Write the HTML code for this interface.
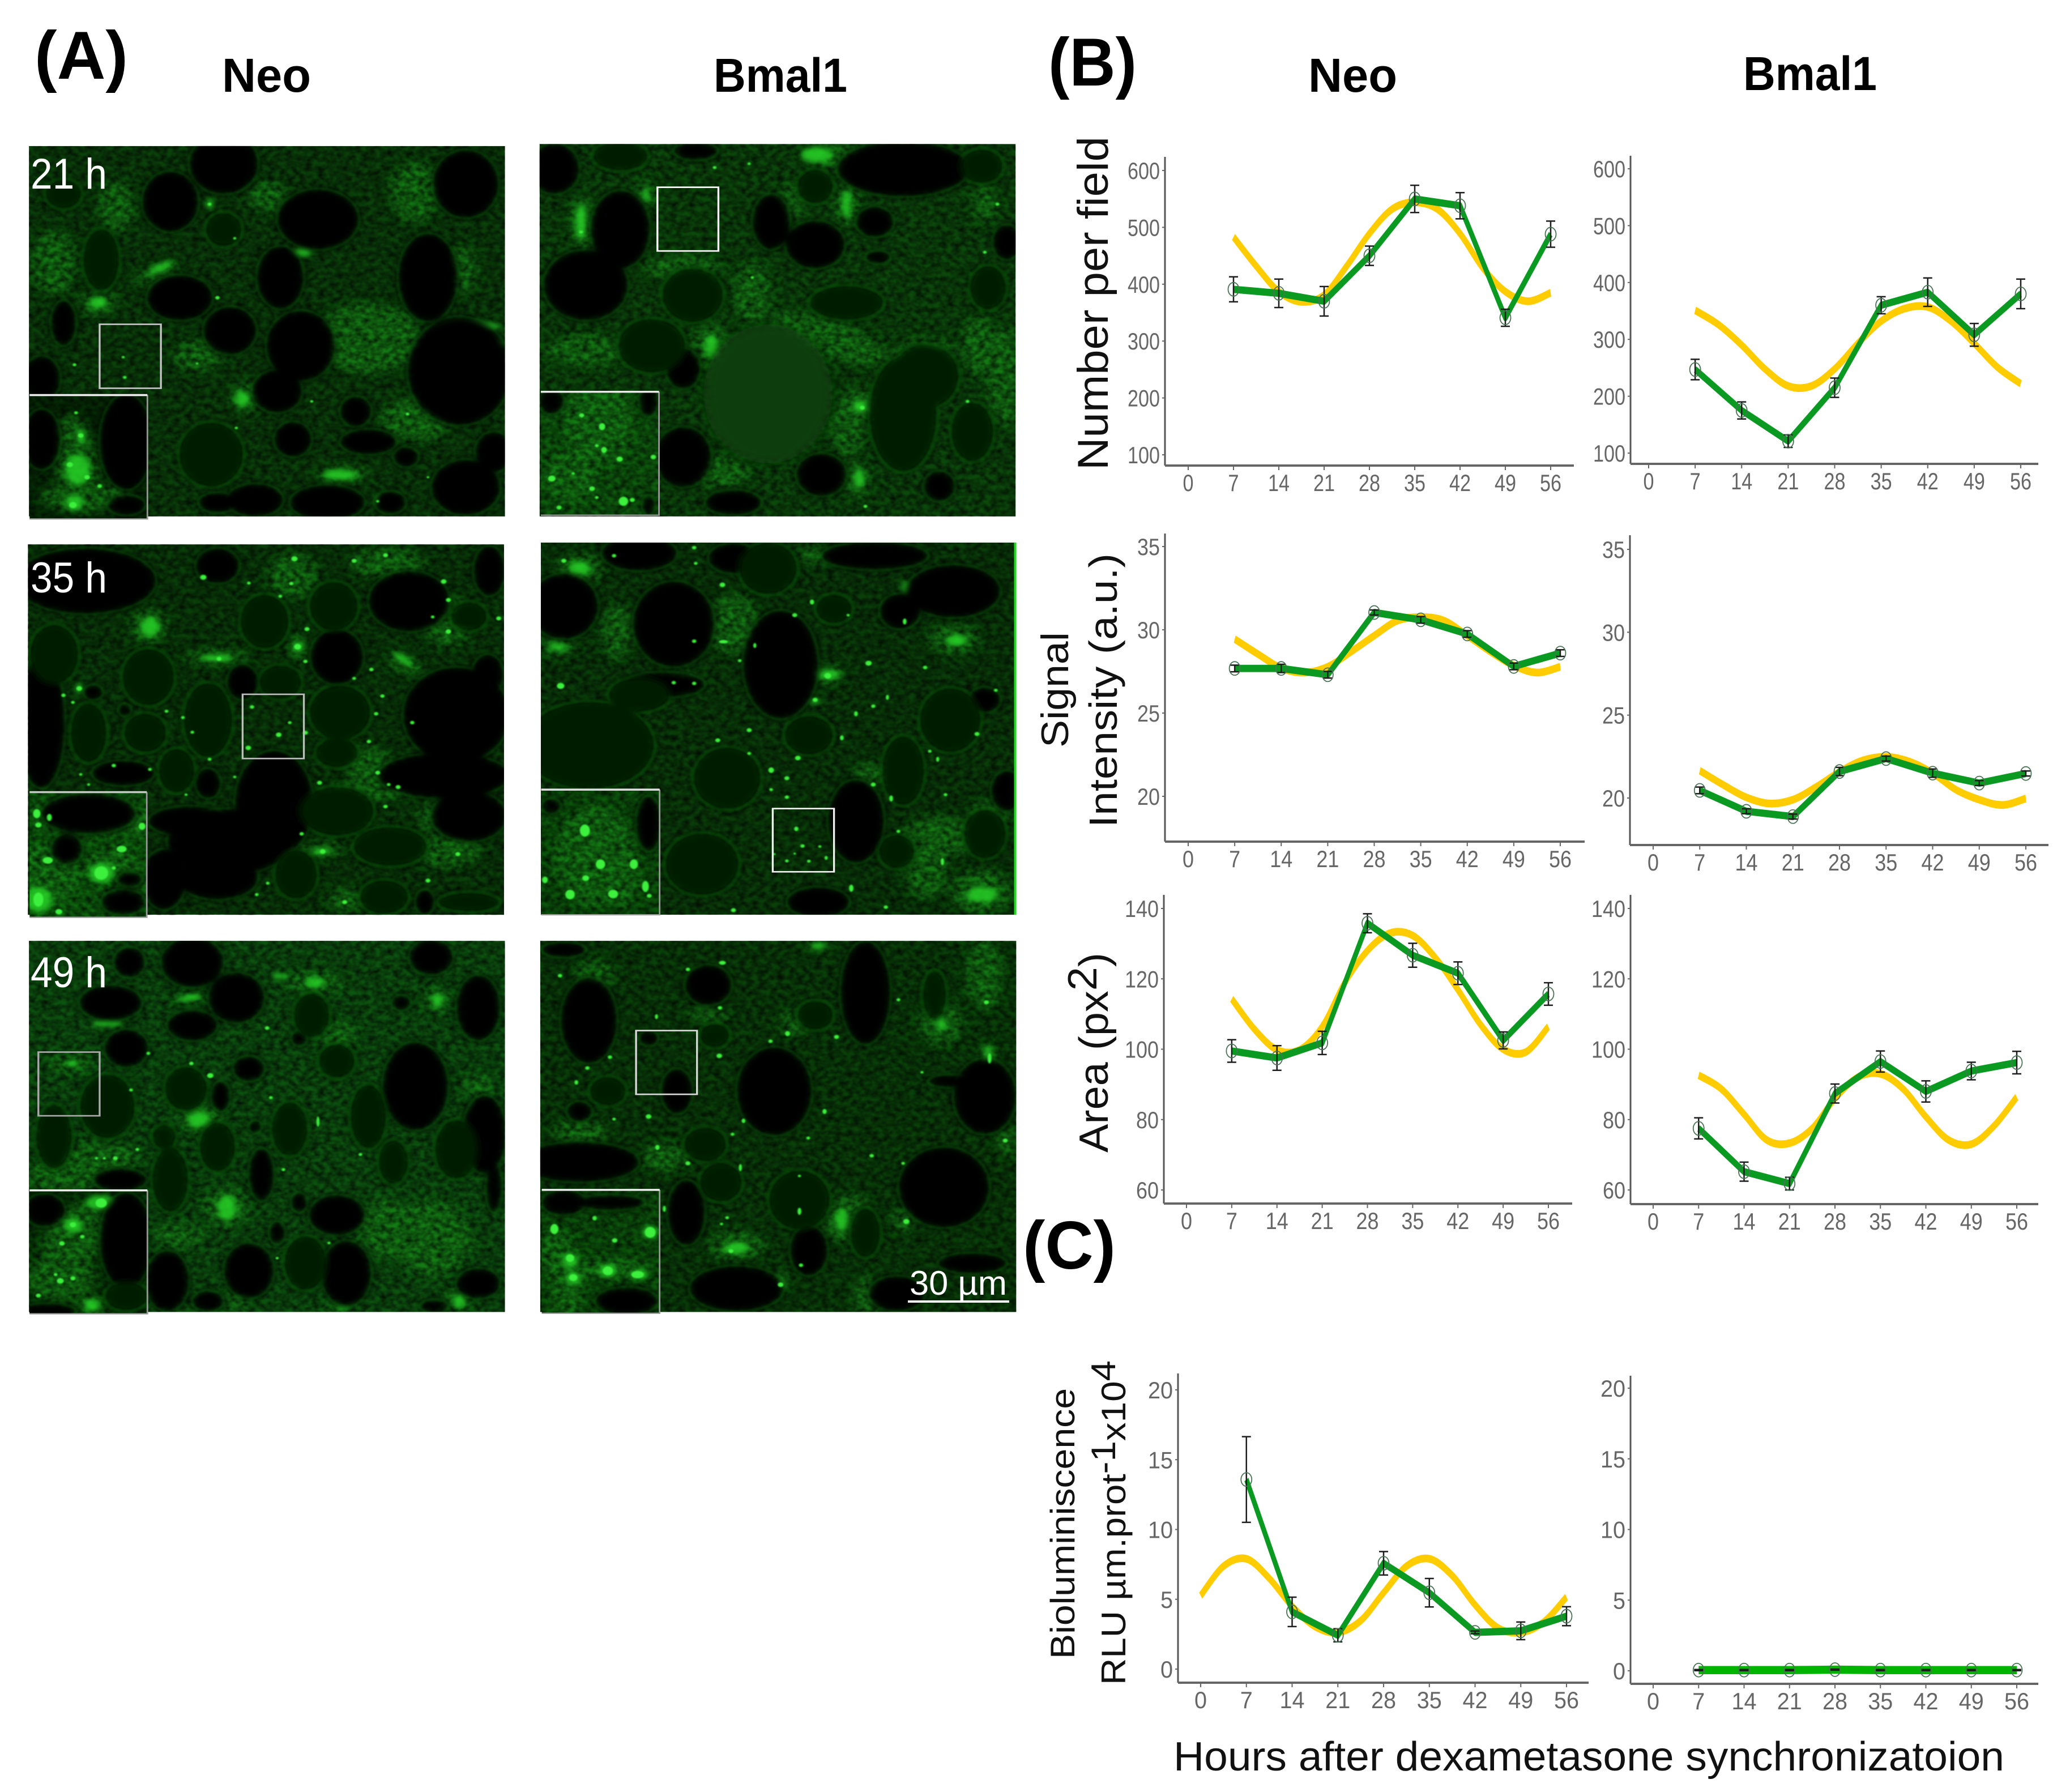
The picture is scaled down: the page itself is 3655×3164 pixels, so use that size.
<!DOCTYPE html>
<html lang="en">
<head>
<meta charset="utf-8">
<title>Neo and Bmal1 micrographs with circadian time courses</title>
<style>
html,body{margin:0;padding:0;background:#fff}
svg{display:block}
text{font-family:"Liberation Sans",sans-serif}
.head{font-weight:700;fill:#000}
.ytitle{fill:#111}
</style>
</head>
<body>
<svg id="fig" xmlns="http://www.w3.org/2000/svg" width="3655" height="3164" viewBox="0 0 3655 3164">
<defs>
<filter id="b16" filterUnits="userSpaceOnUse" x="0" y="0" width="1568" height="1568"><feGaussianBlur stdDeviation="18"/></filter>
<filter id="b13" filterUnits="userSpaceOnUse" x="0" y="0" width="1568" height="1568"><feGaussianBlur stdDeviation="13"/></filter>
<filter id="b9" filterUnits="userSpaceOnUse" x="0" y="0" width="1568" height="1568"><feGaussianBlur stdDeviation="9"/></filter>
<filter id="b4" filterUnits="userSpaceOnUse" x="0" y="0" width="1568" height="1568"><feGaussianBlur stdDeviation="4"/></filter>
<filter id="b2" filterUnits="userSpaceOnUse" x="0" y="0" width="1568" height="1568"><feGaussianBlur stdDeviation="2.2"/></filter>
<filter id="grain" filterUnits="userSpaceOnUse" x="0" y="0" width="1568" height="1568" color-interpolation-filters="sRGB"><feTurbulence type="fractalNoise" baseFrequency=".05" numOctaves="2" seed="7"/><feColorMatrix values="0 0 0 0 0 0 0 0 0 0 0 0 0 0 0 1.3 0 0 0 -.35"/><feGaussianBlur stdDeviation="2"/></filter>
</defs>
<g id="micro"></g>
<text class="head" x="61" y="139" font-size="120" textLength="165" lengthAdjust="spacingAndGlyphs">(A)</text>
<text class="head" x="1851" y="151" font-size="120" textLength="156" lengthAdjust="spacingAndGlyphs">(B)</text>
<text class="head" x="1806" y="2240" font-size="120" textLength="164" lengthAdjust="spacingAndGlyphs">(C)</text>
<text class="head" x="392" y="162" font-size="84" textLength="157" lengthAdjust="spacingAndGlyphs">Neo</text>
<text class="head" x="1260" y="162" font-size="84" textLength="236" lengthAdjust="spacingAndGlyphs">Bmal1</text>
<text class="head" x="2310" y="162" font-size="84" textLength="157" lengthAdjust="spacingAndGlyphs">Neo</text>
<text class="head" x="3078" y="159" font-size="84" textLength="236" lengthAdjust="spacingAndGlyphs">Bmal1</text>
<text class="ytitle" transform="translate(1956,830) rotate(-90)" font-size="76" textLength="589" lengthAdjust="spacingAndGlyphs">Number per field</text>
<text class="ytitle" transform="translate(1886,1320) rotate(-90)" font-size="68" textLength="204" lengthAdjust="spacingAndGlyphs">Signal</text>
<text class="ytitle" transform="translate(1972,1461) rotate(-90)" font-size="70" textLength="484" lengthAdjust="spacingAndGlyphs">Intensity (a.u.)</text>
<text class="ytitle" transform="translate(1956,2035) rotate(-90)" font-size="72" textLength="353" lengthAdjust="spacingAndGlyphs">Area (px<tspan dy="-20">2</tspan><tspan dy="20">)</tspan></text>
<text class="ytitle" transform="translate(1897,2929) rotate(-90)" font-size="60" textLength="478" lengthAdjust="spacingAndGlyphs">Bioluminiscence</text>
<text class="ytitle" transform="translate(1987,2975) rotate(-90)" font-size="60" textLength="573" lengthAdjust="spacingAndGlyphs">RLU µm.prot<tspan dy="-18">-1</tspan><tspan dy="18">x10</tspan><tspan dy="-18">4</tspan></text>
<text x="2072" y="3126" font-size="72" fill="#111" textLength="1467" lengthAdjust="spacingAndGlyphs">Hours after dexametasone synchronizatoion</text>
<g id="charts"></g>
</svg>
<script>
/* ---------- chart data ---------- */
const timeHours = [7, 14, 21, 28, 35, 42, 49, 56];
const xTickLabels = [0, 7, 14, 21, 28, 35, 42, 49, 56];
const fitHours = [7, 10.5, 14, 17.5, 21, 24.5, 28, 31.5, 35, 38.5, 42, 45.5, 49, 52.5, 56];
const bioFitHours = [0, 3.5, 7, 10.5, 14, 17.5, 21, 24.5, 28, 31.5, 35, 38.5, 42, 45.5, 49, 52.5, 56];
const numberTicks = [100, 200, 300, 400, 500, 600];
const signalTicks = [20, 25, 30, 35];
const areaTicks = [60, 80, 100, 120, 140];
const bioTicks = [0, 5, 10, 15, 20];

const neoNumberValues = [391, 384, 370, 450, 550, 538, 341, 488];
const neoNumberErrors = [22, 25, 26, 17, 24, 23, 15, 23];
const neoNumberFit = [483, 432, 387, 369, 381, 432, 489, 532, 544, 532, 489, 429, 387, 370, 385];
const bmalNumberValues = [247, 175, 121, 215, 360, 383, 308, 380];
const bmalNumberErrors = [18, 15, 11, 17, 15, 25, 20, 26];
const bmalNumberFit = [351, 326, 290, 248, 218, 218, 248, 293, 332, 354, 357, 332, 293, 251, 222];

const neoSignalValues = [27.68, 27.68, 27.3, 31.04, 30.6, 29.75, 27.8, 28.6];
const neoSignalErrors = [0.2, 0.25, 0.2, 0.15, 0.2, 0.2, 0.2, 0.2];
const neoSignalFit = [29.44, 28.54, 27.7, 27.43, 27.78, 28.68, 29.65, 30.55, 30.76, 30.55, 29.65, 28.68, 27.85, 27.43, 27.78];
const bmalSignalValues = [20.46, 19.2, 18.88, 21.6, 22.38, 21.5, 20.9, 21.48];
const bmalSignalErrors = [0.2, 0.15, 0.15, 0.25, 0.15, 0.25, 0.15, 0.15];
const bmalSignalFit = [21.65, 20.8, 20.04, 19.67, 19.9, 20.67, 21.58, 22.27, 22.48, 22.2, 21.5, 20.5, 19.9, 19.58, 19.97];

const neoAreaValues = [99.5, 97.5, 101.8, 135.8, 126.7, 121.6, 102.5, 115.7];
const neoAreaErrors = [3.2, 3.5, 3.3, 2.7, 3.4, 3.2, 2.4, 3.2];
const neoAreaFit = [114.3, 105.7, 99.8, 99.8, 106.4, 118.9, 128, 133, 132.3, 126, 116.9, 107, 100, 99.2, 106.4];
const bmalAreaValues = [77.5, 65.2, 61.8, 87.4, 96.5, 88, 93.8, 96.2];
const bmalAreaErrors = [3, 2.7, 1.8, 2.7, 3, 3, 2.5, 3.2];
const bmalAreaFit = [92.6, 88.7, 81.5, 74.2, 73.3, 77.5, 86, 92, 93, 88.7, 80.8, 74.2, 73, 78.2, 86.4];

const neoBioValues = [13.58, 4.1, 2.42, 7.58, 5.47, 2.63, 2.74, 3.79];
const neoBioErrors = [3.07, 1.05, 0.47, 0.84, 1.02, 0.1, 0.63, 0.68];
const neoBioFit = [5.26, 7.37, 7.9, 6.5, 4.5, 3.05, 2.63, 3.47, 5.47, 7.37, 7.9, 6.7, 4.6, 2.95, 2.63, 3.37, 5.16];
const bmalBioValues = [0.05, 0.05, 0.05, 0.08, 0.05, 0.05, 0.05, 0.05];
const bmalBioErrors = [0.04, 0.04, 0.04, 0.04, 0.04, 0.04, 0.04, 0.04];

/* ---------- chart layout ---------- */
const charts = [
 {name:'neo-number', v:neoNumberValues, e:neoNumberErrors, f:neoNumberFit, fh:fitHours, ticks:numberTicks, cw:19,
  L:{ax:2057,top:277,base:822,right:2779,x0:2098,x56:2738,hi:600,hiY:301,lo:100,loY:803}},
 {name:'bmal1-number', v:bmalNumberValues, e:bmalNumberErrors, f:bmalNumberFit, fh:fitHours, ticks:numberTicks, cw:19,
  L:{ax:2879,top:275,base:819,right:3599,x0:2911,x56:3568,hi:600,hiY:298,lo:100,loY:800}},
 {name:'neo-signal', v:neoSignalValues, e:neoSignalErrors, f:neoSignalFit, fh:fitHours, ticks:signalTicks, cw:20,
  L:{ax:2057,top:942,base:1486,right:2798,x0:2098,x56:2755,hi:35,hiY:965,lo:20,loY:1406}},
 {name:'bmal1-signal', v:bmalSignalValues, e:bmalSignalErrors, f:bmalSignalFit, fh:fitHours, ticks:signalTicks, cw:20,
  L:{ax:2878,top:945,base:1492,right:3617,x0:2919,x56:3577,hi:35,hiY:970,lo:20,loY:1409}},
 {name:'neo-area', v:neoAreaValues, e:neoAreaErrors, f:neoAreaFit, fh:fitHours, ticks:areaTicks, cw:20,
  L:{ax:2055,top:1580,base:2125,right:2776,x0:2095,x56:2734,hi:140,hiY:1604,lo:60,loY:2101}},
 {name:'bmal1-area', v:bmalAreaValues, e:bmalAreaErrors, f:bmalAreaFit, fh:fitHours, ticks:areaTicks, cw:20,
  L:{ax:2879,top:1580,base:2126,right:3599,x0:2919,x56:3561,hi:140,hiY:1604,lo:60,loY:2101}},
 {name:'neo-bioluminescence', v:neoBioValues, e:neoBioErrors, f:neoBioFit, fh:bioFitHours, ticks:bioTicks, cw:22,
  L:{ax:2080,top:2425,base:2971,right:2805,x0:2120,x56:2766,hi:20,hiY:2454,lo:0,loY:2947}},
 {name:'bmal1-bioluminescence', v:bmalBioValues, e:bmalBioErrors, f:null, fh:null, ticks:bioTicks, cw:22, light:true,
  L:{ax:2879,top:2429,base:2973,right:3599,x0:2919,x56:3561,hi:20,hiY:2451,lo:0,loY:2950}}
];
const STRETCH = 1.6; /* the source raster was stretched vertically, so strokes are thicker along y */

const NS = 'http://www.w3.org/2000/svg';
function mk(tag, parent, attrs){
  const el = document.createElementNS(NS, tag);
  for (const k in attrs) el.setAttribute(k, attrs[k]);
  parent.appendChild(el);
  return el;
}
function smooth(pts){
  let d = 'M' + pts[0][0] + ' ' + pts[0][1];
  for (let i = 0; i < pts.length - 1; i++){
    const a = pts[Math.max(i-1,0)], b = pts[i], c = pts[i+1], e = pts[Math.min(i+2,pts.length-1)];
    d += ' C' + (b[0]+(c[0]-a[0])/6) + ' ' + (b[1]+(c[1]-a[1])/6) + ' ' + (c[0]-(e[0]-b[0])/6) + ' ' + (c[1]-(e[1]-b[1])/6) + ' ' + c[0] + ' ' + c[1];
  }
  return d;
}
function drawChart(c){
  const L = c.L;
  const xs = h => L.x0 + h * (L.x56 - L.x0) / 56;
  const ys = v => L.loY + (v - L.lo) * (L.hiY - L.loY) / (L.hi - L.lo);
  const g = mk('g', document.getElementById('charts'), {});
  
  

  const yAxis = mk('line', g, {x1:L.ax, y1:L.top, x2:L.ax, y2:L.base, stroke:'#555', 'stroke-width':3});
  
  
  const xAxis = mk('line', g, {x1:L.ax, y1:L.base, x2:L.right, y2:L.base, stroke:'#666', 'stroke-width':4});
  
  

  xTickLabels.forEach(t => {
    const tick = mk('line', g, {x1:xs(t), y1:L.base, x2:xs(t), y2:L.base+8, stroke:'#666', 'stroke-width':2});
    
    
    const s = String(t);
    const lab = mk('text', g, {x:xs(t), y:L.base+45, 'text-anchor':'middle', 'font-size':42, fill:'#666', textLength:s.length*c.cw, lengthAdjust:'spacingAndGlyphs'});
    lab.textContent = s;
    
    
  });
  c.ticks.forEach(t => {
    const tick = mk('line', g, {x1:L.ax-5, y1:ys(t), x2:L.ax, y2:ys(t), stroke:'#666', 'stroke-width':2});
    
    
    const s = String(t);
    const lab = mk('text', g, {x:L.ax-9, y:ys(t)+15, 'text-anchor':'end', 'font-size':42, fill:'#666', textLength:s.length*c.cw, lengthAdjust:'spacingAndGlyphs'});
    lab.textContent = s;
    
    
  });

  const stretched = mk('g', g, {transform:'scale(1 ' + STRETCH + ')'});
  if (c.f){
    const fit = mk('path', stretched, {d:smooth(c.f.map((v,i)=>[xs(c.fh[i]),ys(v)/STRETCH])), fill:'none', stroke:'#ffcc00', 'stroke-width':8.5});
    
    
  }
  const line = mk('polyline', stretched, {points:c.v.map((v,i)=>xs(timeHours[i])+','+(ys(v)/STRETCH)).join(' '), fill:'none', stroke:c.light?'#00b400':'#0a9a22', 'stroke-width':c.light?9:8, 'stroke-linejoin':'round'});
  
  

  c.v.forEach((v,i) => {
    const x = xs(timeHours[i]), hi = ys(v+c.e[i]), lo = ys(v-c.e[i]);
    const bar = mk('path', g, {d:'M'+x+' '+hi+'V'+lo+'M'+(x-8)+' '+hi+'H'+(x+8)+'M'+(x-8)+' '+lo+'H'+(x+8), fill:'none', stroke:'#1c1c1c', 'stroke-width':2.5});
    
    
    const dot = mk('ellipse', g, {cx:x, cy:ys(v), rx:9.5, ry:12, fill:'none', stroke:'#4a7355', 'stroke-width':1.8});
    
    
  });
}
charts.forEach(drawChart);

/* ---------- micrographs: painted with blurred blobs in a 1568-unit local frame ---------- */
const micrographs = [
{name:'neo-21h', ox:40, oy:240, box:[20,40,1535,1505], haze:'#0b420b',
 glow:'1100 800 170 140;780 240 60 60;1250 220 80 120;1250 1120 110 90;560 870 80 60;1400 530 45 95;240 660 60 50;420 550 80 30 -30;710 1030 50 60;1020 1340 80 35;100 500 70 130;300 280 60 100',
 bright:'1420 755 100 22;1490 825 40 22;1010 1340 55 20;240 660 28 22;440 520 45 14 -30;890 460 30 18;700 1040 25 30;1130 1440 8 25;595 270 10 22',
 dark:'640 110 110 120;940 330 130 120;470 260 90 120;130 740 40 90;1290 560 95 175;1410 190 105 135;1390 930 165 215;660 770 85 95;885 830 110 140;810 1010 80 85;820 560 75 125;500 640 105 90;60 960 60 90;1060 1090 50 60;860 1200 60 70;1100 1210 90 50;1220 1270 40 40;740 1440 90 65;970 1450 120 70;1410 1390 110 110;1170 1450 50 45;1500 1250 60 80;620 1450 60 40',
 dim:'250 490 60 125;600 1260 105 130;640 370 60 70;130 230 60 60',
 spots:'675 405 5;620 640 7;165 905 6;325 955 6;320 875 5;1225 1100 6;920 1050 5;680 1155 5;1130 1445 5;1290 1350 4;595 270 6;555 900 4',
 sel:[245,745,440,998], selColor:'#c4c4c4',
 inset:{box:[22,1025,397,1515], haze:'#062c06',
  glow:'170 1300 70 200 -5;200 1430 150 60',
  bright:'175 1320 40 60;165 1450 28 32;185 1190 12 30',
  dark:'330 1210 85 190;60 1200 60 120;330 1460 60 40',
  dim:'',
  spots:'185 1185 9;150 1300 10;205 1350 9;245 1385 7;160 1460 12;170 1095 6',
  line:'#eee'}},
{name:'bmal1-21h', ox:940, oy:240, box:[23,32,1538,1505], haze:'#0c4a0c',
 glow:'960 80 90 60;570 830 60 90;1040 1060 60 60;160 340 40 110;830 260 35 80;1000 270 40 90;1030 1360 40 70;1250 850 90 50;950 800 200 70 25;600 1330 90 60;360 230 30 60;1440 270 40 70;1000 1160 50 110;480 520 120 50;700 620 60 120;1500 950 50 200;1420 830 50 120;170 850 130 60',
 bright:'905 75 50 30;1045 1070 25 25;155 340 18 70;1040 1355 16 40;1000 270 14 55;1270 845 30 14;570 830 22 45;360 235 10 30',
 dark:'280 370 95 155;170 590 135 140;900 430 95 95;1180 130 210 110;760 340 60 110;480 920 55 80;1090 340 60 60;1510 420 45 70;70 130 80 100;1295 1385 50 60;920 1340 80 85;480 1270 90 120;640 1450 90 50;520 60 70 35;1100 480 40 25',
 dim:'510 630 100 110;380 830 110 110;1180 1100 110 230;1400 1170 70 120;1000 660 120 70;1450 600 60 90;1250 950 110 130;900 200 60 70;1430 120 70 70;280 80 90 60',
 big:'750 1020 205 275',
 spots:'155 380 6;1480 270 6;1050 1075 8;1060 1465 6;1440 460 6;1385 1050 6;700 560 5;580 125 6;690 110 5',
 sel:[398,203,592,455], selColor:'#fff',
 inset:{box:[27,1012,403,1500], haze:'#0e5e0e',
  glow:'210 1130 110 170;120 1350 80 100',
  bright:'',
  dark:'370 1050 30 60;370 1460 20 40;60 1050 40 50',
  dim:'',
  spots:'222 1150 10 14;157 1105 8;228 1242 9 12;205 1225 6;278 1278 10;385 1270 9;62 1355 12;190 1395 9;205 1430 6;290 1445 15 18;318 1440 8;85 1470 8;130 1335 5',
  line:'#e8e8e8'}},
{name:'neo-35h', ox:40, oy:950, box:[17,25,1532,1490], haze:'#0a3f0a',
 glow:'400 350 60 70;620 470 110 30;880 430 35 50;1220 500 70 35 40;1320 630 35 50;1160 100 120 60;860 150 80 90;1350 330 80 100;1100 900 70 80;1100 1000 150 40;1350 1240 110 60;1300 1100 40 60;950 1230 70 30;1030 1430 60 50',
 bright:'405 350 30 40;620 475 50 14;875 430 16 22;1210 480 40 12 40;1320 635 18 30;950 1240 30 14;180 595 12 20',
 dark:'200 170 225 130;60 730 75 260;1230 250 130 120;1000 470 85 110;800 1050 125 210;660 1200 200 130;1380 700 170 190;1340 940 210 90;1420 1100 120 100;620 1340 130 90;320 930 100 50;1485 130 50 100;530 1120 130 60;700 570 50 70;225 610 30 30;325 680 20 25;590 970 40 60;620 110 70 70;1480 540 50 80;450 1350 70 120;1280 1440 30 50',
 dim:'100 460 80 120;210 770 60 120;400 550 85 115;590 720 80 150;390 770 70 80;490 920 60 90;770 330 80 110;990 270 80 100;1010 690 100 110;1000 1080 120 100;1170 1220 120 80;820 570 70 70;1420 310 60 60;1000 850 70 60;1420 1440 100 40;870 1330 70 100;1150 1420 80 70',
 spots:'865 82 10;1155 68 8;1055 90 8;575 155 10;855 180 7;720 178 6;820 230 6;1340 172 9;1355 245 8;1305 312 6;1515 318 8;1355 370 9;905 360 8;875 430 11;900 488 7;625 478 8;180 595 9;130 622 7;160 650 6;510 710 6;540 768 6;458 685 6;405 915 6;1145 625 7;1125 695 7;1110 520 7;1055 555 6;1102 805 7;1130 928 8;945 968 8;1195 985 8;1165 975 6;1155 1062 7;888 1170 7;955 1240 9;1290 1355 8;1385 1250 8;1240 730 7;1025 1440 8;780 1365 6;745 1410 6;290 900 7;185 935 5;210 975 5;595 875 6;675 945 5;520 1015 5;815 778 9;718 830 9;730 668 7;850 730 6;900 770 8',
 sel:[700,618,895,872], selColor:'#bdbdbd',
 inset:{box:[22,1005,395,1500], haze:'#0e660e',
  glow:'80 1330 100 120;290 1290 80 60;370 1130 40 60',
  bright:'250 1325 40 40;50 1430 45 50',
  dark:'210 1090 150 80;140 1230 50 60;320 1440 70 50;340 1350 40 30',
  dim:'',
  spots:'250 1325 22 26;50 1430 16 28;80 1275 16 13;45 1090 12 18;85 1105 8 14;50 1135 10;315 1230 16 13;380 1140 11 14;115 1478 11;290 1305 7',
  line:'#c8c8c8'}},
{name:'bmal1-35h', ox:940, oy:950, box:[27,18,1540,1490], haze:'#0a3f0a',
 glow:'150 120 75 60;270 370 50 110;470 570 70 40;940 540 50 40;1340 400 80 60;80 430 60 40;1430 1400 100 90;1250 1300 70 130;1300 1180 120 80;640 340 80 120;900 70 50 40;1040 1080 30 60;1100 930 80 40;1450 1100 60 60',
 bright:'150 120 35 28;940 540 40 18;1350 405 35 22;465 570 26 14;1190 195 14 26;80 430 30 14;1430 1410 50 30;900 645 16 12',
 dark:'100 270 110 130;790 500 120 215;450 340 130 170;1340 210 150 105;1090 70 170 55;420 580 130 50;1030 1120 90 165;910 1440 100 60;1510 1000 50 80;1170 290 65 70;640 80 80 60;340 60 120 70;1440 640 50 50',
 dim:'1330 720 100 130;750 120 95 105;620 950 110 125;540 1290 120 125;1180 920 70 140;180 820 210 175;340 620 100 70;960 280 60 60;880 780 80 80;1440 1170 70 100;1160 1240 60 70',
 spots:'100 90 8;260 70 7;515 38 7;520 100 6;605 185 9;515 408 7;608 410 14 7;660 485 6;708 425 5 10;835 305 8;890 253 7 10;1005 305 5;1185 330 6 12;1070 495 10;940 545 11;515 575 7;450 572 7;90 585 12;1250 512 7;1030 695 6 10;1085 665 7;1130 630 5 10;1475 602 6;1415 775 8;1265 843 6;1290 875 5 10;690 760 8;590 800 8;690 852 6;845 870 9;760 918 9 11;810 950 8;760 995 6;810 1025 7;985 790 6 10;1085 975 8;1142 1030 6 12;1315 1015 6;1165 1160 6;1015 1385 7 14;1125 1460 7;640 1472 8;1305 1280 5 14;900 640 8;840 1150 7 9;860 1218 7;880 1278 6;810 1277 6;915 1220 5;935 1265 5 8;835 1248 4;770 1250 4',
 sel:[765,1070,960,1320], selColor:'#f2f2f2', edge:'#18e018',
 inset:{box:[28,995,405,1490], haze:'#0c560c',
  glow:'200 1260 130 200;300 1340 40 120',
  bright:'',
  dark:'370 1130 40 110;60 1060 30 30',
  dim:'',
  spots:'167 1157 16 24;217 1290 15 19;120 1410 15 19;257 1408 16 17;323 1290 13 19;360 1378 11 22;170 1345 11;40 1352 9 13;372 1415 8',
  line:'#ddd'}},
{name:'neo-49h', ox:40, oy:1650, box:[20,25,1535,1493], haze:'#0d5410',
 glow:'930 190 90 45;530 250 60 15;560 720 70 60;650 1080 70 80;500 1190 80 50;1150 1160 80 120;1300 1200 130 150;1320 260 40 50;1450 600 50 50;150 510 70 40;240 880 130 60;1010 1470 50 25;1380 1450 40 50;680 1450 40 40;1000 400 60 60;130 950 120 60',
 bright:'820 165 30 10;530 250 40 12 -15;560 730 35 35;1240 540 34 10 30;650 1080 30 50;930 190 30 22;1320 260 18 28;1020 1475 20 10;1390 1450 20 25;160 510 18 12;270 350 50 14',
 dark:'540 110 100 100;340 110 50 60;280 270 100 70;540 360 80 60;330 450 70 75;680 250 90 100;630 640 30 60;1300 90 70 70;1205 270 30 30;1450 290 70 130;1250 600 105 175;1470 790 70 155;1000 1110 90 80;1030 1340 80 130;810 1180 25 45;880 1060 25 40;760 950 40 105;310 970 85 45;880 410 25 30;740 760 20 25;720 530 50 50;1450 1380 70 60;460 1370 70 120;720 1330 80 110;1310 1470 45 25;590 1450 50 40;1500 1000 25 100',
 dim:'520 610 70 90;470 970 60 130;620 840 60 100;450 800 40 50;920 320 60 90;850 770 60 110;100 800 60 130;270 680 90 130;900 1300 70 110;1000 500 60 70;1100 720 60 130;1380 850 70 120;1180 900 50 90',
 spots:'597 558 10;537 510 7;778 370 7;400 470 6;345 615 6;365 850 6;295 885 8;260 885 5;235 885 5;940 740 5 20;790 645 6;1075 870 6;975 1220 5;810 1280 5;830 930 6',
 sel:[50,465,245,717], selColor:'#aaa',
 inset:{box:[22,1012,397,1500], haze:'#083e08',
  glow:'165 1200 95 140 20;120 1360 110 90;220 1470 50 40',
  bright:'250 1060 50 28;160 1150 30 30;220 1465 25 25',
  dark:'330 1210 85 190;70 1090 65 65;80 1490 90 30',
  dim:'330 1430 70 60',
  spots:'250 1062 18;160 1148 10;125 1222 9;190 1195 7;120 1370 11;160 1360 8;50 1428 8;105 1345 6',
  line:'#eee'}},
{name:'bmal1-49h', ox:940, oy:1650, box:[25,25,1540,1493], haze:'#0a420a',
 glow:'910 45 40 20;980 1130 50 90;650 1230 90 60;780 1370 30 45;1440 160 60 140;1450 500 28 70;1180 1130 35 50;1060 1430 40 80;200 160 60 60;830 350 40 50;1300 350 70 90;560 320 60 30;1020 1060 50 30;1510 820 30 60;150 780 90 50;420 880 70 60',
 bright:'910 45 24 12;790 1380 14 22;985 1130 20 45;650 1240 40 22;1450 490 12 55;1300 350 16 30',
 dark:'560 200 75 80;1060 230 80 205;180 340 90 170;770 620 120 175;150 900 190 80;1310 1000 145 160;650 1400 150 90;1160 1420 90 70;490 1100 60 130;1440 640 100 150;880 1250 60 100;150 700 40 40;1330 580 70 25;370 410 30 30;460 620 50 90;100 60 70 30;1400 1300 110 40',
 dim:'580 400 50 50;900 320 60 60;550 830 70 70;850 1050 100 120;600 980 70 80;240 620 60 60;1060 1180 50 100;1280 240 40 100',
 spots:'88 163 7;495 138 7;605 112 11 8;597 290 7;395 325 5 10;247 485 7;175 528 7;140 585 6 9;260 730 6;370 720 9;398 842 7 10;495 905 8;662 922 5 14;930 700 7 10;878 805 6;812 392 8 10;758 422 7;968 405 8;595 480 9;672 737 6 9;637 790 6;1080 875 7;1180 905 6;1240 545 5;1445 268 8;1165 258 6;1455 490 6 20;632 1252 8;602 1145 5;620 1120 6;855 1308 7;790 1385 9;1190 1135 10;1505 815 8;850 955 5;850 1095 6 14;420 1085 5 12',
 sel:[330,380,524,632], selColor:'#d8d8d8',
 inset:{box:[30,1010,405,1498], haze:'#0c560c',
  glow:'110 1400 50 120;80 1260 60 90;250 1320 130 40',
  bright:'120 1290 24 30;130 1360 24 26;240 1330 30 24;340 1345 30 18;375 1178 24 26',
  dark:'100 1060 70 50;300 1450 100 55;250 1060 110 30',
  dim:'',
  spots:'70 1165 13 20;375 1178 17 21;120 1280 13 15;240 1330 16 17;335 1345 20 14;130 1357 13;262 1210 9;198 1122 7 9',
  line:'#eee'}}
];
const GLOW = '#128212', BRIGHT = '#28d028', SPOT = '#3cf03c', DIM = '#021f02', RIM = '#149a14';

function blobs(parent, fill, list, filter, extra){
  if (!list) return;
  const g = mk('g', parent, Object.assign({fill:fill, filter:filter}, extra || {}));
  list.split(';').forEach(s => {
    const p = s.trim().split(' ').map(Number);
    const rx = p[2], ry = p.length > 3 ? p[3] : p[2], rot = p[4] || 0;
    const e = mk('ellipse', g, {cx:p[0], cy:p[1], rx:rx, ry:ry, transform:'rotate('+rot+' '+p[0]+' '+p[1]+')'});
    
    
  });
}
let clipId = 0;
function paint(parent, m){
  const [x1,y1,x2,y2] = m.box;
  const id = 'clip' + (clipId++);
  const cp = mk('clipPath', parent, {id:id});
  mk('rect', cp, {x:x1, y:y1, width:x2-x1, height:y2-y1});
  const g = mk('g', parent, {'clip-path':'url(#'+id+')'});
  mk('rect', g, {x:x1, y:y1, width:x2-x1, height:y2-y1, fill:m.haze});
  blobs(g, GLOW, m.glow, 'url(#b16)', {opacity:.85});
  mk('rect', g, {x:x1, y:y1, width:x2-x1, height:y2-y1, fill:'#000', filter:'url(#grain)'});
  blobs(g, BRIGHT, m.bright, 'url(#b9)', {opacity:.85});
  const rimOpts = {stroke:RIM, 'stroke-width':7, opacity:.6};
  blobs(g, 'none', m.dark, 'url(#b4)', rimOpts);
  blobs(g, 'none', m.dim, 'url(#b4)', rimOpts);
  blobs(g, '#000', m.dark, 'url(#b13)');
  blobs(g, DIM, m.dim, 'url(#b13)');
  blobs(g, '#073d07', m.big, 'url(#b16)');
  blobs(g, SPOT, m.spots, 'url(#b2)');
  return g;
}
const root = document.getElementById('micro');
micrographs.forEach(m => {
  const frame = mk('g', root, {transform:'translate('+m.ox+' '+m.oy+') scale(.5548 .4464)'});
  
  
  paint(frame, m);
  if (m.edge){
    const edge = mk('rect', frame, {x:m.box[2]-7, y:m.box[1], width:7, height:m.box[3]-m.box[1], fill:m.edge});
    
    
  }
  const s = m.sel;
  const sel = mk('rect', frame, {x:s[0], y:s[1], width:s[2]-s[0], height:s[3]-s[1], fill:'none', stroke:m.selColor, 'stroke-width':6});
  
  
  const ins = mk('g', frame, {});
  
  
  paint(ins, m.inset);
  const b = m.inset.box;
  mk('path', ins, {d:'M'+b[2]+' '+b[1]+'V'+b[3]+'H'+b[0], fill:'none', stroke:'#999', 'stroke-width':5});
  mk('line', ins, {x1:b[0], y1:b[1], x2:b[2], y2:b[1], stroke:m.inset.line, 'stroke-width':8});
});
/* time and scale labels sit on top of the images */
[['21 h',333],['35 h',1046],['49 h',1743]].forEach(t => {
  const lab = mk('text', root, {x:54, y:t[1], 'font-size':76, fill:'#fff', textLength:135, lengthAdjust:'spacingAndGlyphs'});
  lab.textContent = t[0];
  
  
});
const scaleText = mk('text', root, {x:1606, y:2286, 'font-size':60, fill:'#fff', textLength:172, lengthAdjust:'spacingAndGlyphs'});
scaleText.textContent = '30 µm';


const scaleBar = mk('line', root, {x1:1603, y1:2298, x2:1782, y2:2298, stroke:'#fff', 'stroke-width':4});


</script>
</body>
</html>
